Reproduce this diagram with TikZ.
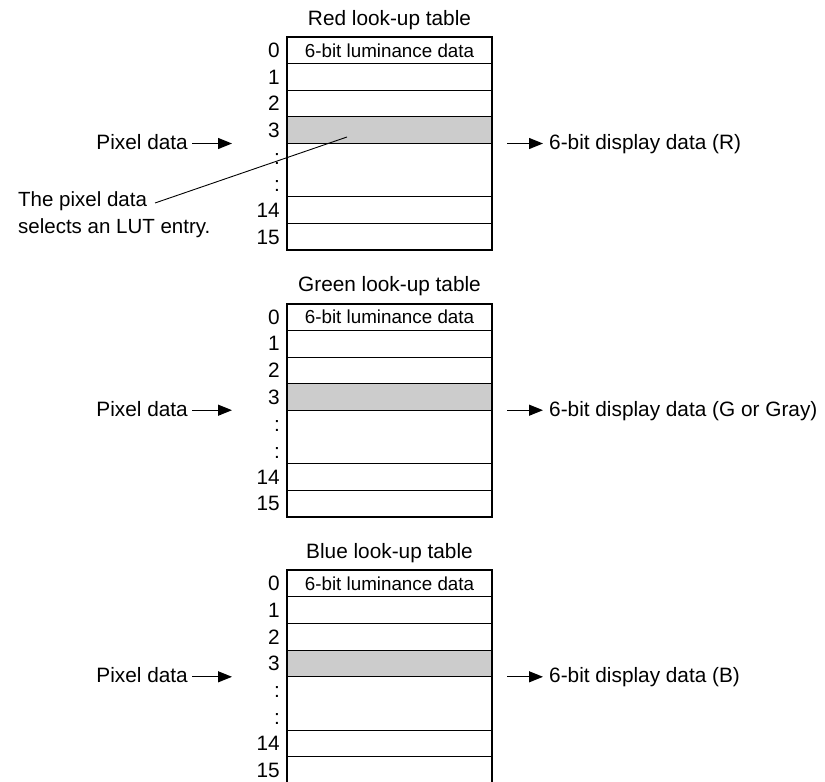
\documentclass[tikz,border=0pt]{standalone}
\usepackage{fontspec}
\setmainfont{Liberation Sans}
\usetikzlibrary{arrows.meta}
\definecolor{lutgrey}{RGB}{204,204,204}
\tikzset{
  cell/.style={draw, line width=1pt, minimum width=205pt, inner sep=0pt, outer sep=0pt,
    font=\fontsize{18.8}{20}\selectfont},
  hicell/.style={cell, fill=lutgrey},
  frame/.style={draw, line width=2pt},
  lbl/.style={anchor=base east, inner sep=0pt, font=\fontsize{20.8}{24}\selectfont},
  txt/.style={inner sep=0pt, font=\fontsize{20.8}{24}\selectfont},
  arr/.style={line width=1.2pt, -{Triangle[length=14pt,width=11pt]}},
  pointer/.style={line width=0.9pt}
}
\newcommand\lutable[4]{%
  % #1 name, #2 top y, #3 title, #4 output text
  \node[cell, minimum height=26.67pt] (#1r0) at (389.5,{#2+13.33}) {6-bit luminance data};
  \node[cell, minimum height=26.67pt] (#1r1) at (389.5,{#2+40}) {};
  \node[cell, minimum height=26.67pt] (#1r2) at (389.5,{#2+66.67}) {};
  \node[hicell, minimum height=26.67pt] (#1r3) at (389.5,{#2+93.33}) {};
  \node[cell, minimum height=53.33pt] (#1gap) at (389.5,{#2+133.33}) {};
  \node[cell, minimum height=26.67pt] (#1r14) at (389.5,{#2+173.33}) {};
  \node[cell, minimum height=26.67pt] (#1r15) at (389.5,{#2+200}) {};
  \draw[frame] (#1r0.north west) rectangle (#1r15.south east);
  \node[lbl] (#1l0) at (280,{#2+20.3}) {0};
  \node[lbl] (#1l1) at (280,{#2+47}) {1};
  \node[lbl] (#1l2) at (280,{#2+73.7}) {2};
  \node[lbl] (#1l3) at (280,{#2+100.3}) {3};
  \node[lbl] (#1la) at (280,{#2+127.5}) {:};
  \node[lbl] (#1lb) at (280,{#2+154.5}) {:};
  \node[lbl] (#1l14) at (280,{#2+180.3}) {14};
  \node[lbl] (#1l15) at (280,{#2+207}) {15};
  \node[txt, anchor=base] (#1title) at (389.5,{#2-12}) {#3};
  \node[txt, anchor=base east] (#1pd) at (188,{#2+112.5}) {Pixel data};
  \coordinate (#1ps) at (192,{#2+106.5});
  \coordinate (#1pi) at (232,{#2+106.5});
  \draw[arr] (#1ps) -- (#1pi);
  \node[txt, anchor=base west] (#1out) at (549,{#2+112.5}) {#4};
  \coordinate (#1os) at (507,{#2+106.5});
  \draw[arr, shorten >=6pt] (#1os) -- (#1out.west |- #1os);
}
\begin{document}
\begin{tikzpicture}[x=1pt,y=-1pt]
\useasboundingbox (0,0) rectangle (825,782);
\lutable{R}{37}{Red look-up table}{6-bit display data (R)}
\lutable{G}{303.7}{Green look-up table}{6-bit display data (G or Gray)}
\lutable{B}{570.3}{Blue look-up table}{6-bit display data (B)}
\node[txt, align=left, anchor=north west, font=\fontsize{20.5}{27}\selectfont] (ann) at (18,191) {The pixel data\\selects an LUT entry.};
\coordinate (annS) at (155,203);
\coordinate (annE) at (347,137);
\draw[pointer] (annS) -- (annE);
\end{tikzpicture}
\end{document}
